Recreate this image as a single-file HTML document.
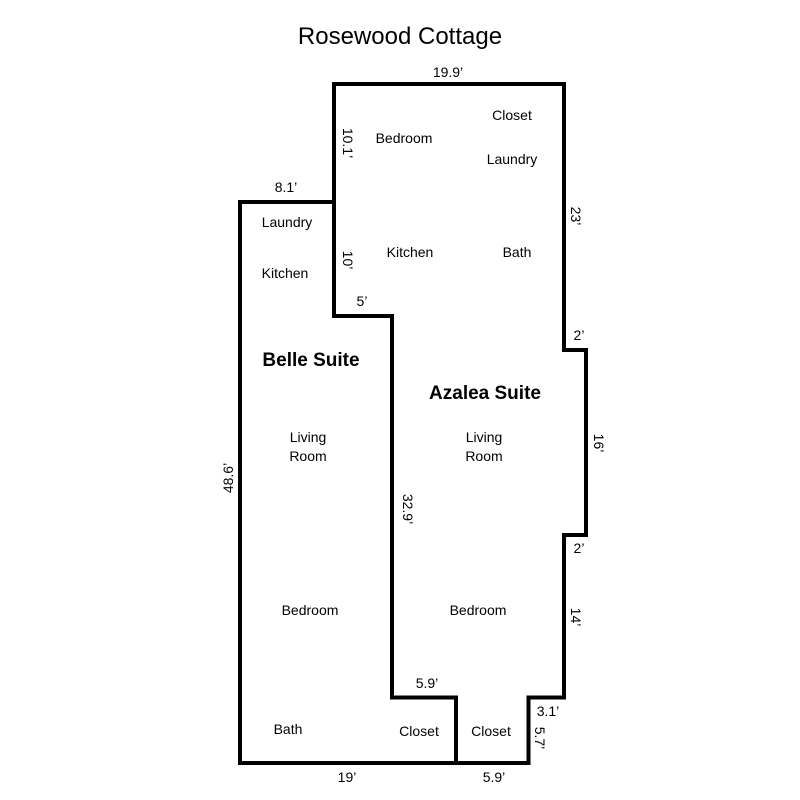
<!DOCTYPE html>
<html><head><meta charset="utf-8"><style>
html,body{margin:0;padding:0;background:#fff;}
svg{display:block;}
text{font-family:"Liberation Sans",sans-serif;fill:#000;}
</style></head><body>
<svg width="800" height="800" viewBox="0 0 800 800">
<g fill="none" stroke="#000" stroke-width="4" stroke-linejoin="miter">
<path d="M334,202 L240,202 L240,763 L456,763 L456,697.5 L392,697.5 L392,316 L334,316 Z"/>
<path d="M334,202 L334,84 L564,84 L564,350 L586,350 L586,535 L564,535 L564,697.5 L528.5,697.5 L528.5,763 L456,763"/>
</g>
<text x="400" y="44" font-size="24" text-anchor="middle">Rosewood Cottage</text>
<g font-size="14" text-anchor="middle">
<text x="448" y="77">19.9’</text>
<text x="286" y="192">8.1’</text>
<text x="362" y="306">5’</text>
<text x="579" y="340">2’</text>
<text x="579" y="553">2’</text>
<text x="427" y="688">5.9’</text>
<text x="548" y="716">3.1’</text>
<text x="347" y="782">19’</text>
<text x="494" y="782">5.9’</text>
<text transform="translate(343,143) rotate(90)">10.1’</text>
<text transform="translate(343,260) rotate(90)">10’</text>
<text transform="translate(571,216) rotate(90)">23’</text>
<text transform="translate(594,443) rotate(90)">16’</text>
<text transform="translate(571,617) rotate(90)">14’</text>
<text transform="translate(403,509) rotate(90)">32.9’</text>
<text transform="translate(535,738) rotate(90)">5.7’</text>
<text transform="translate(233,478) rotate(-90)">48.6’</text>
</g>
<g font-size="14" text-anchor="middle">
<text x="404" y="143">Bedroom</text>
<text x="512" y="120">Closet</text>
<text x="512" y="164">Laundry</text>
<text x="410" y="257">Kitchen</text>
<text x="517" y="257">Bath</text>
<text x="287" y="227">Laundry</text>
<text x="285" y="278">Kitchen</text>
<text x="308" y="442">Living</text>
<text x="308" y="461">Room</text>
<text x="484" y="442">Living</text>
<text x="484" y="461">Room</text>
<text x="310" y="615">Bedroom</text>
<text x="478" y="615">Bedroom</text>
<text x="288" y="734">Bath</text>
<text x="419" y="736">Closet</text>
<text x="491" y="736">Closet</text>
</g>
<g font-size="19" font-weight="bold" text-anchor="middle">
<text x="311" y="366">Belle Suite</text>
<text x="485" y="399">Azalea Suite</text>
</g>
</svg>
</body></html>
